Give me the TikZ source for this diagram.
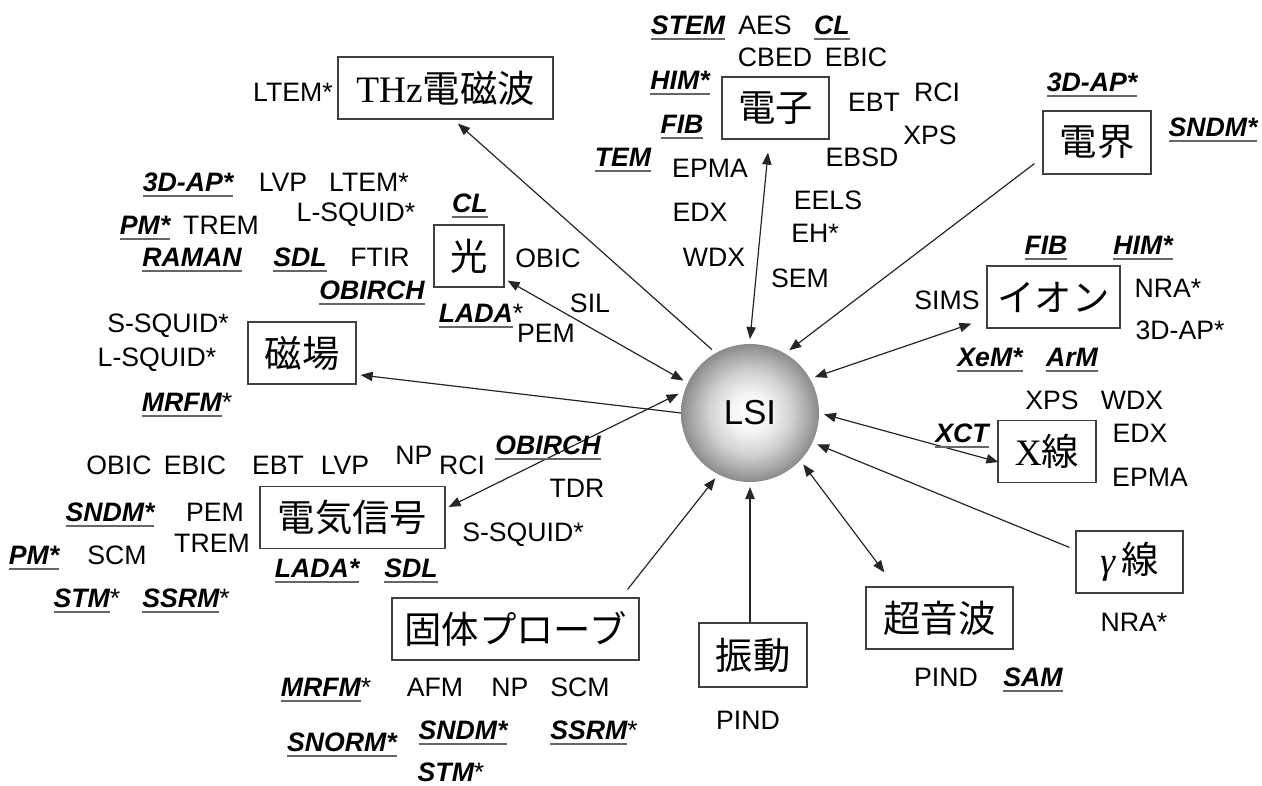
\documentclass[tikz,border=0pt]{standalone}
\usepackage{fontspec}
\setmainfont{Liberation Sans}
\newfontfamily\cjk{Noto Sans CJK JP}
\newfontfamily\serifx{Liberation Serif}
\usetikzlibrary{arrows.meta,calc}
\newcommand\bix{\bfseries\itshape}
\newcommand\myul[1]{\setbox0=\hbox{#1}\rlap{\color{black!60}\rule[-3.8pt]{\wd0}{1.1pt}}\box0}
\pgfdeclareradialshading{sphereshade}{\pgfpoint{0bp}{0bp}}{color(0bp)=(white); color(7bp)=(black!4); color(15bp)=(black!18); color(21bp)=(black!34); color(25bp)=(black!46); color(50bp)=(black!46)}
\begin{document}
\begin{tikzpicture}[x=0.75pt,y=-0.75pt,
  lab/.style={font=\fontsize{20}{24}\selectfont, inner sep=0pt, text height=14.3pt, text depth=0pt},
  bx/.style={draw=black!75, line width=0.9pt, inner sep=0pt, minimum height=46.5pt, font=\fontsize{28}{32}\selectfont\cjk},
  conn/.style={line width=0.9pt, draw=black!85},
  >={Triangle[length=9pt,width=7pt]}
]
\useasboundingbox (0,0) rectangle (1262,785);

% centre sphere
\node[circle, minimum size=103.5pt, inner sep=0pt, outer sep=3.75pt,
      shade, shading=sphereshade,
      font=\fontsize{26}{30}\selectfont] (lsi) at (750,413) {LSI};

% boxes
\node[bx, minimum width=161.25pt] (thz) at (445.5,88) {{\serifx THz}電磁波};
\node[bx, minimum width=80.25pt] (denshi) at (775.5,108) {電子};
\node[bx, minimum width=81pt, minimum height=47.25pt] (denkai) at (1097,142.5) {電界};
\node[bx, minimum width=52.5pt] (hikari) at (469,256) {光};
\node[bx, minimum width=81pt] (jiba) at (302,353) {磁場};
\node[bx, minimum width=99.75pt] (ion) at (1053.5,297) {イオン};
\node[bx, minimum width=73.5pt] (xsen) at (1047,451.5) {{\serifx X}線};
\node[bx, minimum width=80.25pt] (gamma) at (1129.5,562) {{\serifx\itshape γ}\,線};
\node[bx, minimum width=110.25pt] (onpa) at (939.5,618) {超音波};
\node[bx, minimum width=81pt, minimum height=48pt] (shindo) at (753,655) {振動};
\node[bx, minimum width=185.25pt] (kotai) at (515.5,629) {固体プローブ};
\node[bx, minimum width=138.75pt] (denki) at (352.5,517.5) {電気信号};

% connectors
\draw[conn,->] (lsi.121) -- ($(thz.south)+(12.5,4)$);
\draw[conn,<->] (lsi.north) -- ($(denshi.south)+(-7.5,13)$);
\draw[conn,->] ($(denkai.south west)+(-8,-11)$) -- (lsi.58);
\draw[conn,<->] ($(hikari.south east)+(3,-7)$) -- (lsi.154);
\draw[conn,->] ($(lsi.west)+(5,0)$) -- ($(jiba.east)+(4,22)$);
\draw[conn,<->] ($(denki.east)+(3,-10.5)$) -- (lsi.165);
\draw[conn,->] ($(kotai.north east)+(-12,-8)$) -- (lsi.242);
\draw[conn,->] ($(shindo.north)+(-3,0)$) -- (lsi.south);
\draw[conn,<->] (lsi.-44) -- ($(onpa.north west)+(19,-14)$);
\draw[conn,->] ($(gamma.north west)+(-6,17)$) -- (lsi.-25.5);
\draw[conn,<->] (lsi.-1.7) -- ($(xsen.west)+(1,10.5)$);
\draw[conn,<->] (lsi.29.7) -- ($(ion.south west)+(-15,-5)$);

% electron group
\node[lab] (e1) at (688,25) {\myul{\bix STEM}};
\node[lab] (e2) at (765,25) {AES};
\node[lab] (e3) at (832,25) {\myul{\bix CL}};
\node[lab] (e4) at (775,57) {CBED};
\node[lab] (e5) at (856,57) {EBIC};
\node[lab] (e6) at (680,80) {\myul{\bix HIM*}};
\node[lab] (e7) at (874,102) {EBT};
\node[lab] (e8) at (937,92) {RCI};
\node[lab] (e9) at (682,124) {\myul{\bix FIB}};
\node[lab] (e10) at (930,135) {XPS};
\node[lab] (e11) at (623,157) {\myul{\bix TEM}};
\node[lab] (e12) at (710,168) {EPMA};
\node[lab] (e13) at (862,157) {EBSD};
\node[lab] (e14) at (828,200) {EELS};
\node[lab] (e15) at (700,212) {EDX};
\node[lab] (e16) at (815,233) {EH*};
\node[lab] (e17) at (714,257) {WDX};
\node[lab] (e18) at (800,278) {SEM};

% THz / field
\node[lab] (t1) at (293,92) {LTEM*};
\node[lab] (f1) at (1092,82) {\myul{\bix 3D-AP*}};
\node[lab] (f2) at (1213,127) {\myul{\bix SNDM*}};

% light group
\node[lab] (h1) at (188,182) {\myul{\bix 3D-AP*}};
\node[lab] (h2) at (283,182) {LVP};
\node[lab] (h3) at (369,182) {LTEM*};
\node[lab] (h4) at (356,212) {L-SQUID*};
\node[lab] (h5) at (470,203) {\myul{\bix CL}};
\node[lab] (h6) at (145,225) {\myul{\bix PM*}};
\node[lab] (h7) at (221,225) {TREM};
\node[lab] (h8) at (192,257) {\myul{\bix RAMAN}};
\node[lab] (h9) at (300,257) {\myul{\bix SDL}};
\node[lab] (h10) at (380,257) {FTIR};
\node[lab] (h11) at (548,258) {OBIC};
\node[lab] (h12) at (372,290) {\myul{\bix OBIRCH}};
\node[lab] (h13) at (590,303) {SIL};
\node[lab] (h14) at (481,313) {\myul{\bix LADA}*};
\node[lab] (h15) at (546,333) {PEM};

% magnetic group
\node[lab] (m1) at (168,323) {S-SQUID*};
\node[lab] (m2) at (157,357) {L-SQUID*};
\node[lab] (m3) at (187,402) {\myul{\bix MRFM}*};

% electrical group
\node[lab] (d1) at (119,465) {OBIC};
\node[lab] (d2) at (195,465) {EBIC};
\node[lab] (d3) at (278,465) {EBT};
\node[lab] (d4) at (345,465) {LVP};
\node[lab] (d5) at (414,455) {NP};
\node[lab] (d6) at (462,465) {RCI};
\node[lab] (d7) at (548,445) {\myul{\bix OBIRCH}};
\node[lab] (d8) at (577,488) {TDR};
\node[lab] (d9) at (110,512) {\myul{\bix SNDM*}};
\node[lab] (d10) at (215,512) {PEM};
\node[lab] (d11) at (212,543) {TREM};
\node[lab] (d12) at (523,532) {S-SQUID*};
\node[lab] (d13) at (34,555) {\myul{\bix PM*}};
\node[lab] (d14) at (117,555) {SCM};
\node[lab] (d15) at (317,568) {\myul{\bix LADA*}};
\node[lab] (d16) at (411,568) {\myul{\bix SDL}};
\node[lab] (d17) at (87,598) {\myul{\bix STM}*};
\node[lab] (d18) at (186,598) {\myul{\bix SSRM}*};

% solid probe group
\node[lab] (k1) at (326,687) {\myul{\bix MRFM}*};
\node[lab] (k2) at (435,687) {AFM};
\node[lab] (k3) at (510,687) {NP};
\node[lab] (k4) at (580,687) {SCM};
\node[lab] (k5) at (342,742) {\myul{\bix SNORM*}};
\node[lab] (k6) at (463,730) {\myul{\bix SNDM*}};
\node[lab] (k7) at (594,730) {\myul{\bix SSRM}*};
\node[lab] (k8) at (451,772) {{\bix STM}*};

% vibration / ultrasound / gamma
\node[lab] (v1) at (748,720) {PIND};
\node[lab] (u1) at (946,677) {PIND};
\node[lab] (u2) at (1033,677) {\myul{\bix SAM}};
\node[lab] (g1) at (1134,622) {NRA*};

% ion group
\node[lab] (i1) at (1046,245) {\myul{\bix FIB}};
\node[lab] (i2) at (1143,245) {\myul{\bix HIM*}};
\node[lab] (i3) at (947,300) {SIMS};
\node[lab] (i4) at (1168,288) {NRA*};
\node[lab] (i5) at (1180,330) {3D-AP*};
\node[lab] (i6) at (990,357) {\myul{\bix XeM*}};
\node[lab] (i7) at (1072,357) {\myul{\bix ArM}};

% X-ray group
\node[lab] (x1) at (1052,400) {XPS};
\node[lab] (x2) at (1132,400) {WDX};
\node[lab] (x3) at (962,433) {\myul{\bix XCT}};
\node[lab] (x4) at (1140,433) {EDX};
\node[lab] (x5) at (1150,477) {EPMA};
\end{tikzpicture}
\end{document}
